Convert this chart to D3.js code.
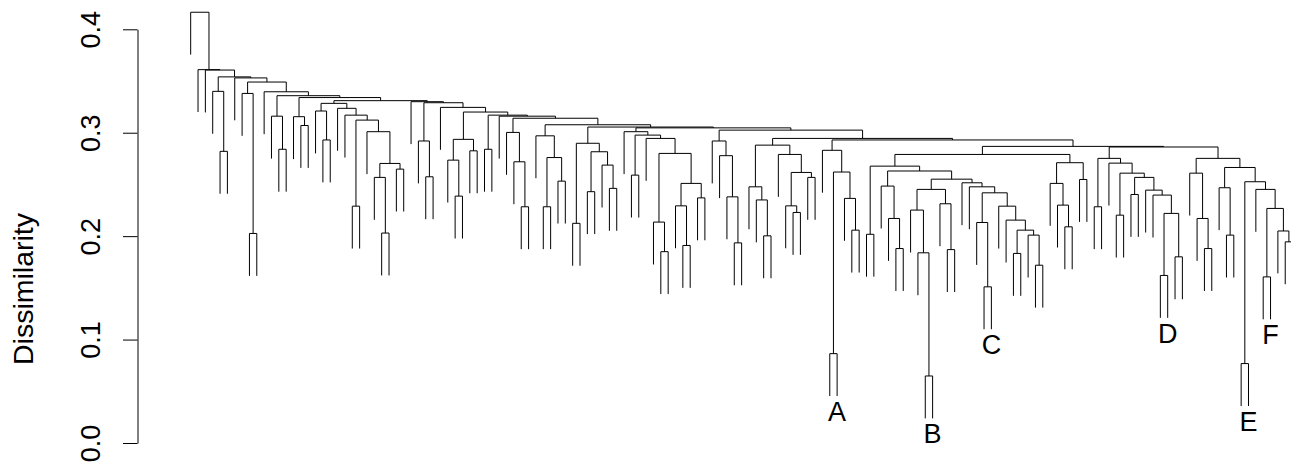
<!DOCTYPE html>
<html>
<head>
<meta charset="utf-8">
<script src="https://cdn.jsdelivr.net/npm/d3@7"></script>
<style>
  body { margin: 0; background: #fff; }
  text { font-family: "Liberation Sans", Arial, sans-serif; fill: #000; }
</style>
</head>
<body>
<div id="chart"></div>
<script>
// dendrogram merges, written as [height, left, right]; a 0 is a leaf
var branchURb = [0.2752, [0.2609, 0, [0.2171, 0, [0.188, 0, 0]]],
	[0.2664, [0.2468, 0, [0.201, 0, 0]],
		[0.2526, [0.0768, 0, 0], [0.2452, 0, [0.2268, [0.1606, 0, 0], [0.205, 0, [0.1945, 0, 0]]]]]]];
var branchURa = [0.2752, [0.2284, 0, 0], [0.2706, 0, [0.2609, [0.2203, 0, 0],
	[0.2568, [0.2403, 0, 0], [0.2445, 0, [0.2397, 0, [0.222, [0.162, 0, 0], [0.180, 0, 0]]]]]]]];
var branchUL2 = [0.271, [0.251, 0, [0.230, 0, [0.209, 0, 0]]], [0.2548, 0, 0]];
var branchV9 = [0.229, 0, [0.2155, 0, [0.2058, [0.1833, 0, 0], [0.201, 0, [0.1719, 0, 0]]]]];
var branchV5 = [0.2516, 0, [0.2477, 0, [0.2419, [0.2132, 0, [0.151, 0, 0]], branchV9]]];
var branchV4 = [0.2452, [0.2252, 0, [0.1839, 0, [0.0648, 0, 0]]], [0.2313, 0, [0.187, 0, 0]]];
var branchV2 = [0.2484, 0, [0.2171, 0, [0.188, 0, 0]]];
var branchUL1 = [0.2677, [0.2018, 0, 0], [0.263, branchV2, [0.2551, branchV4, branchV5]]];
var branchU = [0.2868, [0.279, branchUL1, branchUL2], [0.2862, branchURa, branchURb]];
var branchWn = [0.283, 0, [0.262, [0.0864, 0, 0], [0.2365, 0, [0.2058, 0, 0]]]];
var branchT1 = [0.288, [0.2477, 0, [0.235, 0, [0.2003, 0, 0]]],
	[0.279, 0, [0.2616, [0.2293, 0, [0.2229, 0, 0]], [0.2568, 0, 0]]]];
var branchPb = [0.3025, [0.292, 0, [0.2778, 0, [0.238, 0, [0.1935, 0, 0]]]],
	[0.2945, branchT1, [0.293, branchWn, branchU]]];
var branchR0 = [0.280, [0.2136, 0, [0.185, 0, 0]], [0.251, [0.2293, 0, [0.191, 0, 0]], [0.237, 0, 0]]];
var branchPa = [0.301, 0, [0.2977, [0.259, 0, 0], [0.2945, 0, branchR0]]];
var branchO1 = [0.2898, [0.2124, 0, 0], [0.2816, [0.243, 0, 0], [0.2687, 0, [0.2462, 0, 0]]]];
var branchM2 = [0.297, 0, [0.276, [0.2284, 0, 0], [0.2532, 0, 0]]];
var branchL2 = [0.3003, 0, [0.2719, 0, [0.2284, 0, 0]]];
var branchK = [0.317, [0.284, 0, 0], [0.316, 0, [0.314, branchL2,
	[0.3077, branchM2, [0.3055, branchO1, [0.3047, branchPa, branchPb]]]]]];
var branchH2 = [0.2936, [0.2735, 0, [0.2387, 0, 0]], [0.2825, 0, 0]];
var branchW = [0.329, [0.292, 0, [0.2574, 0, 0]], [0.3245, 0, [0.320, branchH2, branchK]]];
var branchE1 = [0.3236, 0, [0.317, 0, [0.3122, [0.229, 0, 0],
	[0.301, 0, [0.2703, [0.2568, 0, [0.203, 0, 0]], [0.2648, 0, 0]]]]]];
var branchY = [0.331, [0.3284, [0.321, 0, [0.293, 0, 0]], branchE1], [0.330, 0, branchW]];
var branchR = [0.3396, 0, [0.3358, [0.316, 0, [0.284, 0, 0]],
	[0.334, [0.3155, 0, [0.307, 0, 0]], branchY]]];
var branchA3 = [0.354, [0.340, 0, [0.282, 0, 0]],
	[0.353, 0, [0.349, [0.338, 0, [0.2026, 0, 0]], branchR]]];
var tree = [0.4165, 0, [0.361, 0, [0.3606, 0, branchA3]]];

// labelled leaves (by position in leaf order) and their names
var labelLeaf = [88, 101, 109, 133, 144, 147];
var labelText = ["A", "B", "C", "D", "E", "F"];

var yTicks = [0, 0.1, 0.2, 0.3, 0.4];
var hang = 0.041;

var svgWidth = 1291;
var svgHeight = 462;

var svg = d3.select("#chart")
	.append("svg")
	.attr("width", svgWidth)
	.attr("height", svgHeight);

// hierarchy + cluster layout puts leaves evenly and parents at the mean of children
var root = d3.hierarchy(tree, function(d) { return Array.isArray(d) ? [d[1], d[2]] : null; });
var nLeaves = root.leaves().length;
d3.cluster().size([nLeaves - 1, 1]).separation(function() { return 1; })(root);

var xScale = d3.scaleLinear()
	.domain([0, nLeaves - 1])
	.range([187, 187 + 7.395 * (nLeaves - 1)]);

var yScale = d3.scaleLinear()
	.domain([0, 0.4])
	.range([443, 29.3]);

function nodeHeight(n) {
	return n.children ? n.data[0] : n.parent.data[0] - hang;
}

// branches
var inner = root.descendants().filter(function(n) { return n.children; });
svg.append("g")
	.selectAll("path")
	.data(inner)
	.enter()
	.append("path")
	.attr("fill", "none")
	.attr("stroke", "#000")
	.attr("stroke-width", 1)
	.attr("d", function(n) {
		var a = n.children[0], b = n.children[1];
		var yh = yScale(n.data[0]);
		return "M" + xScale(a.x) + "," + yScale(nodeHeight(a)) +
			"V" + yh + "H" + xScale(b.x) + "V" + yScale(nodeHeight(b));
	});

// leaf labels
var leaves = root.leaves();
svg.append("g")
	.selectAll("text")
	.data(labelLeaf)
	.enter()
	.append("text")
	.attr("x", function(i) { return xScale(leaves[i].x); })
	.attr("y", function(i) { return yScale(nodeHeight(leaves[i])) + 25; })
	.attr("text-anchor", "middle")
	.style("font-size", "27px")
	.text(function(i, k) { return labelText[k]; });

// y axis
var leftAxis = d3.axisLeft(yScale)
	.tickValues(yTicks)
	.tickFormat(d3.format(".1f"))
	.tickSize(14.5)
	.tickSizeOuter(0);

var axisG = svg.append("g")
	.attr("transform", "translate(137.5,0)")
	.call(leftAxis);

axisG.selectAll("path, line").attr("stroke", "#000");
axisG.selectAll("text")
	.attr("transform", "rotate(-90)")
	.attr("x", 0)
	.attr("y", -37.5)
	.attr("dy", 0)
	.attr("text-anchor", "middle")
	.style("font-size", "27px")
	.style("font-family", "'Liberation Sans', Arial, sans-serif");

svg.append("text")
	.attr("transform", "translate(33,289) rotate(-90)")
	.attr("text-anchor", "middle")
	.style("font-size", "28.5px")
	.text("Dissimilarity");
</script>
</body>
</html>
